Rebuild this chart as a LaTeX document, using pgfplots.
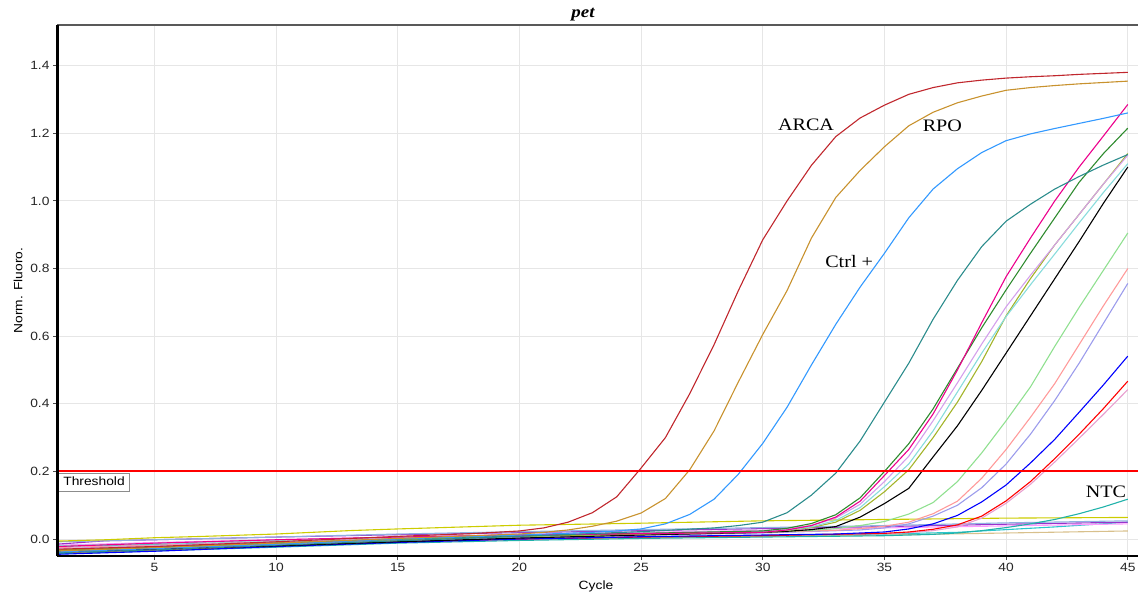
\documentclass[border=0pt]{standalone}
\usepackage{fontspec}
\setmainfont{Liberation Sans}[FakeStretch=1.15]
\newfontfamily\tnr{Liberation Serif}[FakeStretch=1.15]
\usepackage{pgfplots}
\pgfplotsset{compat=1.18}
\definecolor{gridgray}{HTML}{E6E6E6}
\definecolor{thr}{RGB}{255,0,0}
\definecolor{arca}{HTML}{C0272D}
\definecolor{rpo}{HTML}{C8922E}
\definecolor{ctrl}{HTML}{3399FF}
\definecolor{tealc}{HTML}{2B8C8C}
\definecolor{dgreen}{HTML}{2E8B2E}
\definecolor{lav}{HTML}{D4A0EC}
\definecolor{lcyan}{HTML}{88DCDC}
\definecolor{olivec}{HTML}{A3B42A}
\definecolor{lgreen}{HTML}{90E090}
\definecolor{salmonc}{HTML}{FF9A9A}
\definecolor{mpurple}{HTML}{9C9CEC}
\definecolor{pinkc}{HTML}{E8A0D0}
\definecolor{ntc}{HTML}{20B2AA}
\definecolor{yellowc}{HTML}{CCCC00}
\definecolor{lsteel}{HTML}{8FB0E0}
\definecolor{dorchid}{HTML}{9933CC}
\definecolor{lviolet}{HTML}{FF99FF}
\definecolor{cyanc}{HTML}{2CC6CC}
\definecolor{tanc}{HTML}{D8C08C}
\begin{document}
\begin{tikzpicture}
\useasboundingbox (0,0) rectangle (1138pt,592pt);
\begin{axis}[
  at={(57pt,36pt)}, anchor=south west,
  scale only axis, width=1081pt, height=531pt,
  xmin=1, xmax=45.42, ymin=-0.05, ymax=1.52,
  xtick={5,10,15,20,25,30,35,40,45},
  ytick={0,0.2,0.4,0.6,0.8,1.0,1.2,1.4},
  grid=major, major grid style={color=gridgray, line width=1pt},
  axis line style={draw=none},
  tick pos=left, tick align=outside, major tick length=4pt,
  tick style={color=black!70, line width=0.8pt},
  /pgf/number format/assume math mode=true,
  yticklabel style={/pgf/number format/.cd, fixed, fixed zerofill, precision=1},
  ticklabel style={font=\fontsize{12}{14}\selectfont, color=black!85},
  xlabel={Cycle},
  xlabel style={at={(axis description cs:0.4986,-0.064)}, anchor=base, font=\fontsize{12}{14}\selectfont},
  ylabel={Norm. Fluoro.},
  ylabel style={at={(axis description cs:-0.036,0.5)}, anchor=center, font=\fontsize{12}{14}\selectfont},
  title={\tnr\bfseries\itshape pet},
  every axis title shift=0pt,
  title style={at={(axis description cs:0.4866,1.0145)}, anchor=base, yshift=0pt, font=\fontsize{16.5}{18}\selectfont},
  clip mode=individual,
  every axis plot/.append style={line width=1.1pt, mark=none},
]
% flat curves
\addplot[tanc] coordinates {(1,-0.03)(5,-0.024)(10,-0.014)(15,-0.006)(20,0.0)(25,0.004)(30,0.008)(35,0.012)(40,0.018)(45,0.024)};
\addplot[cyanc] coordinates {(1,-0.022)(5,-0.016)(10,-0.008)(15,-0.002)(20,0.002)(25,0.006)(30,0.010)(35,0.015)(38,0.020)(40,0.028)(42,0.036)(45,0.050)};
\addplot[lviolet] coordinates {(1,-0.018)(5,-0.01)(10,-0.002)(15,0.006)(20,0.014)(25,0.020)(30,0.026)(35,0.033)(40,0.039)(45,0.045)};
\addplot[dorchid] coordinates {(1,-0.015)(3,-0.005)(5,-0.002)(10,0.006)(15,0.013)(20,0.019)(25,0.025)(30,0.031)(35,0.037)(40,0.044)(45,0.050)};
\addplot[lsteel] coordinates {(1,-0.008)(5,-0.002)(10,0.006)(15,0.015)(20,0.022)(25,0.028)(30,0.034)(35,0.040)(40,0.048)(45,0.054)};
\addplot[yellowc] coordinates {(1,-0.006)(3,-0.002)(5,0.004)(7,0.008)(10,0.015)(13,0.025)(15,0.030)(20,0.041)(25,0.047)(30,0.054)(35,0.058)(40,0.062)(45,0.064)};
\addplot[ntc] coordinates {(1,-0.043)(5,-0.035)(10,-0.024)(15,-0.012)(20,-0.004)(25,0.002)(30,0.006)(35,0.010)(37,0.014)(38,0.018)(39,0.025)(40,0.034)(41,0.045)(42,0.058)(43,0.075)(44,0.095)(45,0.118)};
% late risers
\addplot[pinkc] coordinates {(1,-0.036)(5,-0.028)(10,-0.017)(15,-0.006)(20,0.002)(25,0.007)(30,0.011)(35,0.016)(36,0.019)(37,0.025)(38,0.036)(39,0.062)(40,0.106)(41,0.162)(42,0.228)(43,0.298)(44,0.369)(45,0.442)};
\addplot[red] coordinates {(1,-0.04)(5,-0.032)(10,-0.02)(15,-0.008)(20,0.0)(25,0.006)(30,0.010)(35,0.017)(36,0.021)(37,0.029)(38,0.042)(39,0.068)(40,0.113)(41,0.170)(42,0.238)(43,0.310)(44,0.386)(45,0.467)};
\addplot[blue] coordinates {(1,-0.045)(5,-0.036)(10,-0.022)(15,-0.01)(20,0.0)(25,0.007)(30,0.012)(33,0.015)(34,0.018)(35,0.021)(36,0.030)(37,0.045)(38,0.070)(39,0.110)(40,0.160)(41,0.225)(42,0.295)(43,0.375)(44,0.456)(45,0.541)};
\addplot[mpurple] coordinates {(1,-0.032)(5,-0.024)(10,-0.014)(15,-0.004)(20,0.005)(25,0.012)(30,0.018)(34,0.027)(35,0.033)(36,0.045)(37,0.068)(38,0.100)(39,0.152)(40,0.222)(41,0.310)(42,0.410)(43,0.520)(44,0.638)(45,0.756)};
\addplot[salmonc] coordinates {(1,-0.025)(5,-0.018)(10,-0.008)(15,0.0)(20,0.008)(25,0.014)(30,0.020)(33,0.026)(34,0.031)(35,0.038)(36,0.050)(37,0.075)(38,0.112)(39,0.180)(40,0.265)(41,0.360)(42,0.460)(43,0.575)(44,0.690)(45,0.800)};
\addplot[lgreen] coordinates {(1,-0.03)(5,-0.022)(10,-0.01)(15,0.0)(20,0.008)(25,0.014)(30,0.020)(32,0.026)(33,0.031)(34,0.040)(35,0.052)(36,0.074)(37,0.108)(38,0.170)(39,0.255)(40,0.350)(41,0.450)(42,0.570)(43,0.685)(44,0.795)(45,0.905)};
\addplot[black] coordinates {(1,-0.038)(5,-0.03)(10,-0.02)(15,-0.008)(20,0.003)(25,0.012)(30,0.020)(31,0.023)(32,0.028)(33,0.037)(34,0.065)(35,0.105)(36,0.150)(37,0.243)(38,0.335)(39,0.440)(40,0.550)(41,0.660)(42,0.770)(43,0.880)(44,0.993)(45,1.100)};
\addplot[olivec] coordinates {(1,-0.032)(5,-0.024)(10,-0.012)(15,-0.002)(20,0.008)(25,0.015)(30,0.021)(31,0.026)(32,0.034)(33,0.050)(34,0.085)(35,0.140)(36,0.205)(37,0.300)(38,0.405)(39,0.525)(40,0.660)(41,0.770)(42,0.870)(43,0.960)(44,1.050)(45,1.140)};
\addplot[lcyan] coordinates {(1,-0.02)(5,-0.013)(10,-0.004)(15,0.005)(20,0.012)(25,0.018)(30,0.022)(31,0.027)(32,0.036)(33,0.055)(34,0.093)(35,0.155)(36,0.222)(37,0.320)(38,0.435)(39,0.550)(40,0.658)(41,0.752)(42,0.843)(43,0.935)(44,1.025)(45,1.110)};
\addplot[lav] coordinates {(1,-0.028)(5,-0.02)(10,-0.008)(15,0.003)(20,0.012)(25,0.018)(30,0.024)(31,0.030)(32,0.040)(33,0.062)(34,0.103)(35,0.170)(36,0.245)(37,0.350)(38,0.462)(39,0.577)(40,0.687)(41,0.780)(42,0.870)(43,0.960)(44,1.050)(45,1.135)};
\addplot[dgreen] coordinates {(1,-0.035)(5,-0.025)(10,-0.012)(15,0.0)(20,0.010)(25,0.017)(30,0.024)(31,0.032)(32,0.046)(33,0.072)(34,0.122)(35,0.200)(36,0.282)(37,0.385)(38,0.505)(39,0.625)(40,0.737)(41,0.845)(42,0.950)(43,1.055)(44,1.140)(45,1.215)};
\addplot[magenta] coordinates {(1,-0.022)(5,-0.012)(10,-0.002)(15,0.006)(20,0.012)(25,0.016)(30,0.020)(31,0.027)(32,0.040)(33,0.065)(34,0.112)(35,0.188)(36,0.265)(37,0.370)(38,0.500)(39,0.640)(40,0.776)(41,0.890)(42,1.000)(43,1.100)(44,1.192)(45,1.285)};
% early risers
\addplot[tealc] coordinates {(1,-0.040)(5,-0.032)(10,-0.018)(15,-0.005)(20,0.008)(25,0.022)(28,0.033)(29,0.040)(30,0.050)(31,0.078)(32,0.130)(33,0.195)(34,0.290)(35,0.405)(36,0.520)(37,0.650)(38,0.765)(39,0.865)(40,0.940)(41,0.990)(42,1.035)(43,1.072)(44,1.106)(45,1.137)};
\addplot[ctrl] coordinates {(1,-0.038)(5,-0.028)(10,-0.015)(15,0.0)(20,0.012)(23,0.020)(24,0.024)(25,0.030)(26,0.045)(27,0.073)(28,0.118)(29,0.192)(30,0.283)(31,0.390)(32,0.515)(33,0.635)(34,0.745)(35,0.845)(36,0.950)(37,1.035)(38,1.095)(39,1.143)(40,1.178)(41,1.198)(42,1.214)(43,1.229)(44,1.244)(45,1.260)};
\addplot[rpo] coordinates {(1,-0.035)(5,-0.025)(10,-0.012)(15,0.002)(20,0.015)(21,0.020)(22,0.027)(23,0.038)(24,0.053)(25,0.077)(26,0.120)(27,0.205)(28,0.320)(29,0.465)(30,0.605)(31,0.735)(32,0.890)(33,1.010)(34,1.090)(35,1.160)(36,1.222)(37,1.262)(38,1.290)(39,1.310)(40,1.327)(41,1.335)(42,1.341)(43,1.346)(44,1.350)(45,1.354)};
\addplot[arca] coordinates {(1,-0.030)(5,-0.022)(10,-0.008)(15,0.008)(18,0.016)(20,0.024)(21,0.033)(22,0.050)(23,0.078)(24,0.125)(25,0.210)(26,0.300)(27,0.430)(28,0.575)(29,0.735)(30,0.885)(31,1.000)(32,1.105)(33,1.190)(34,1.245)(35,1.283)(36,1.315)(37,1.335)(38,1.349)(39,1.357)(40,1.363)(41,1.367)(42,1.370)(43,1.374)(44,1.377)(45,1.380)};
% threshold
\addplot[draw=thr, line width=1.9pt, forget plot] coordinates {(1,0.2)(45.42,0.2)};
\node[draw=black!45, fill=white, line width=0.8pt, anchor=north west, inner xsep=4.5pt, inner ysep=3.2pt, text height=9pt, text depth=2.5pt, font=\fontsize{12}{14}\selectfont] at (axis cs:1.06,0.196) {Threshold};
% annotations
\node[font=\tnr\fontsize{17.5}{20}\selectfont] at (axis cs:31.78,1.224) {ARCA};
\node[font=\tnr\fontsize{17.5}{20}\selectfont] at (axis cs:37.38,1.221) {RPO};
\node[font=\tnr\fontsize{17.5}{20}\selectfont] at (axis cs:33.55,0.82) {Ctrl +};
\node[font=\tnr\fontsize{17.5}{20}\selectfont] at (axis cs:44.1,0.141) {NTC};
% axis lines
\draw[black!65, line width=1.3pt] (rel axis cs:0,1) -- (rel axis cs:1,1);
\draw[black, line width=2.6pt] (rel axis cs:0,0) -- (rel axis cs:1,0);
\draw[black, line width=3pt] (rel axis cs:0,0) -- (rel axis cs:0,1);
\end{axis}
\end{tikzpicture}
\end{document}
